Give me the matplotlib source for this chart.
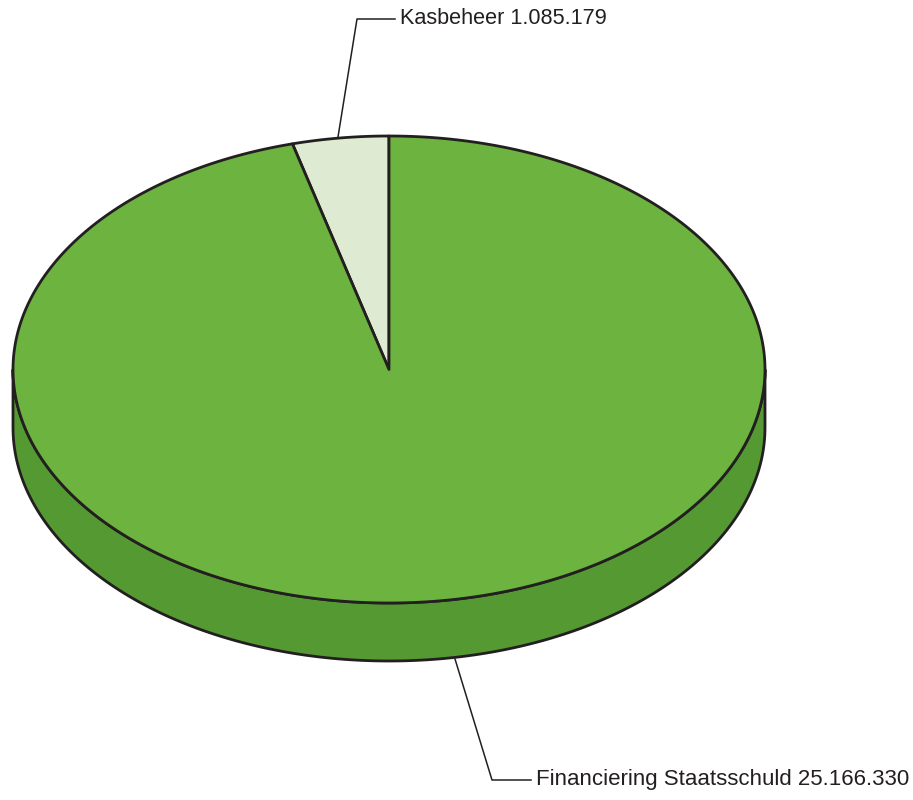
import numpy as np
import matplotlib
matplotlib.use("Agg")
import matplotlib.pyplot as plt
from matplotlib.patches import Polygon

# data
labels = ["Kasbeheer", "Financiering Staatsschuld"]
values = [1085179, 25166330]
value_text = ["1.085.179", "25.166.330"]
colors_top = ["#deebd2", "#6db33f"]
colors_side = ["#c8d9b8", "#559933"]

# ellipse geometry in pixels
cx, cy = 389, 369.5
rx, ry = 376, 233.5
depth = 58
edge = "#231f20"

fig = plt.figure(figsize=(9.13, 8), dpi=100)
ax = fig.add_axes([0, 0, 1, 1])
ax.set_xlim(0, 913)
ax.set_ylim(800, 0)
ax.axis("off")

fracs = np.array(values) / sum(values)
# slices go counterclockwise from the top
starts = 90 + 360 * np.concatenate([[0], np.cumsum(fracs)[:-1]])
ends = starts + 360 * fracs


def pt(t, dy=0):
    r = np.radians(t)
    return cx + rx * np.cos(r), cy - ry * np.sin(r) + dy


# side wall: visible front half (angles 180..360)
for s, e, c in zip(starts, ends, colors_side):
    a0, a1 = max(s, 180), min(e, 360)
    if a1 <= a0:
        continue
    t = np.linspace(a0, a1, 200)
    top = [pt(v) for v in t]
    bot = [pt(v, depth) for v in t[::-1]]
    ax.add_patch(Polygon(top + bot, closed=True, facecolor=c, edgecolor=edge,
                         linewidth=2, joinstyle="round"))

# top face
for s, e, c in zip(starts, ends, colors_top):
    t = np.linspace(s, e, 400)
    verts = [(cx, cy)] + [pt(v) for v in t]
    ax.add_patch(Polygon(verts, closed=True, facecolor=c, edgecolor=edge,
                         linewidth=2, joinstyle="round"))

# leader lines and labels
ax.plot([338, 357, 395], [137, 19, 19], color=edge, lw=1.1)
ax.text(400, 19, f"{labels[0]} {value_text[0]}", fontsize=15.6,
        family="Liberation Sans", va="center", ha="left", color=edge)
ax.plot([455, 492, 531], [659, 780, 780], color=edge, lw=1.1)
ax.text(536, 780, f"{labels[1]} {value_text[1]}", fontsize=16,
        family="Liberation Sans", va="center", ha="left", color=edge)

fig.savefig("out.png", dpi=100)
